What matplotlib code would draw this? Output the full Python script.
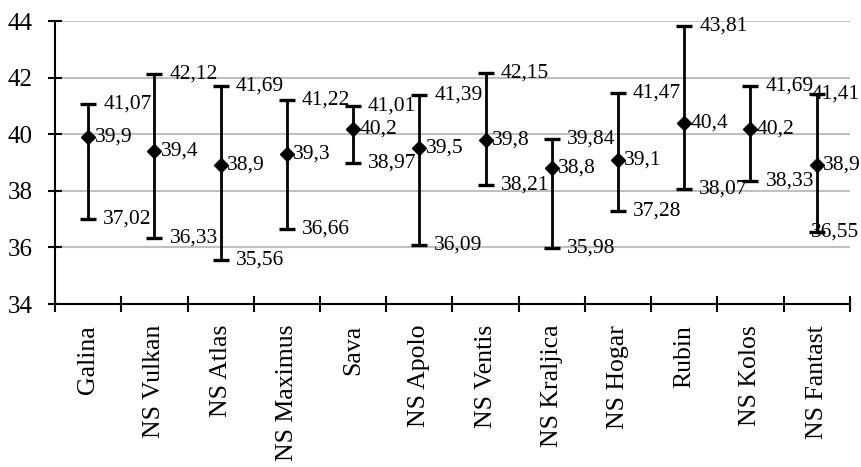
import matplotlib.pyplot as plt
import matplotlib.transforms as mtransforms

# Sorte i vrijednosti (max, prosjek, min)
sorte = ['Galina', 'NS Vulkan', 'NS Atlas', 'NS Maximus', 'Sava', 'NS Apolo',
         'NS Ventis', 'NS Kraljica', 'NS Hogar', 'Rubin', 'NS Kolos', 'NS Fantast']
maks = [41.07, 42.12, 41.69, 41.22, 41.01, 41.39, 42.15, 39.84, 41.47, 43.81, 41.69, 41.41]
prosjek = [39.9, 39.4, 38.9, 39.3, 40.2, 39.5, 39.8, 38.8, 39.1, 40.4, 40.2, 38.9]
mini = [37.02, 36.33, 35.56, 36.66, 38.97, 36.09, 38.21, 35.98, 37.28, 38.07, 38.33, 36.55]

plt.rcParams['font.family'] = 'Liberation Serif'

fig = plt.figure(figsize=(8.61, 4.67), dpi=100)
ax = fig.add_axes([0.064, 0.349, 0.923, 0.606])

x = list(range(len(sorte)))
donja = [p - m for p, m in zip(prosjek, mini)]
gornja = [m - p for p, m in zip(prosjek, maks)]

ax.errorbar(x, prosjek, yerr=[donja, gornja], fmt='D', color='black',
            markersize=7, elinewidth=2, capsize=5.5, capthick=2.4, zorder=3)

fs = 15.5
blend = mtransforms.blended_transform_factory(fig.transFigure, ax.transData)
for i in x:
    ax.annotate(f'{prosjek[i]:g}'.replace('.', ','), (i, prosjek[i]),
                xytext=(4.5, 0), textcoords='offset points',
                va='center', ha='left', fontsize=fs)
    for v in (maks[i], mini[i]):
        txt = f'{v:.2f}'.replace('.', ',')
        if i == len(sorte) - 1:
            # zadnja sorta: oznaka se poravnava uz desni rub
            ax.annotate(txt, (0.998, v), xycoords=blend, va='center',
                        ha='right', fontsize=fs, annotation_clip=False)
        else:
            ax.annotate(txt, (i, v), xytext=(10.8, 0), textcoords='offset points',
                        va='center', ha='left', fontsize=fs)

ax.set_xlim(-0.5, len(sorte) - 0.5)
ax.set_ylim(34, 44)
ax.set_yticks([34, 36, 38, 40, 42, 44])
ax.set_xticks(x)
ax.set_xticklabels(sorte, rotation=90, fontsize=18.5)
ax.set_xticks([i - 0.5 for i in range(len(sorte) + 1)], minor=True)
ax.tick_params(axis='x', which='major', length=0, pad=15)
ax.tick_params(axis='x', which='minor', direction='inout', length=11.5, width=1.5)
ax.tick_params(axis='y', direction='inout', length=10, width=1.5, pad=11, labelsize=18)

ax.grid(axis='y', color='#c0c0c0', linewidth=1.5, zorder=0)
ax.set_axisbelow(True)
for s in ('top', 'right'):
    ax.spines[s].set_visible(False)
for s in ('left', 'bottom'):
    ax.spines[s].set_linewidth(1.5)

fig.savefig('out.png', dpi=100)
